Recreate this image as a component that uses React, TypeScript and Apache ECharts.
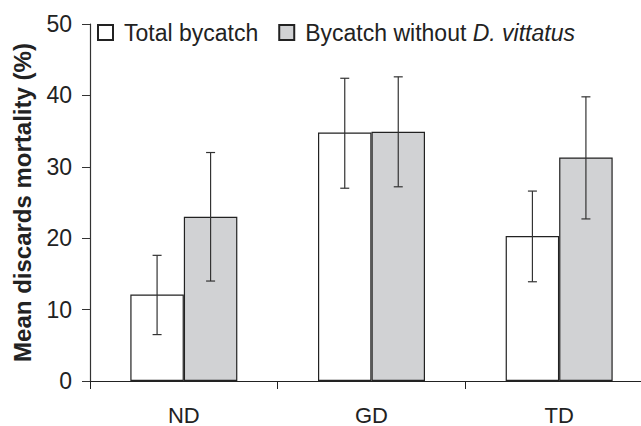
import React, { useEffect, useRef } from "react";
import * as echarts from "echarts";

const categories = ["ND", "GD", "TD"];
const totalMean = [12.1, 34.8, 20.3];
const totalLow = [6.5, 27.0, 13.9];
const totalHigh = [17.6, 42.4, 26.6];
const withoutMean = [23.0, 34.9, 31.3];
const withoutLow = [14.0, 27.2, 22.7];
const withoutHigh = [32.0, 42.6, 39.8];
const seriesNames = ["Total bycatch", "Bycatch without D. vittatus"];

const BAR_W = 53.5;

function errorSeries(low: number[], high: number[], dir: number) {
  return {
    type: "custom",
    z: 10,
    silent: true,
    data: categories.map((c, i) => [i, low[i], high[i]]),
    renderItem: (params: any, api: any) => {
      const top = api.coord([api.value(0), api.value(2)]);
      const bot = api.coord([api.value(0), api.value(1)]);
      const x = top[0] + (dir * BAR_W) / 2;
      const cap = 4.5;
      const style = { stroke: "#333", lineWidth: 1.2 };
      return {
        type: "group",
        children: [
          { type: "line", shape: { x1: x, y1: top[1], x2: x, y2: bot[1] }, style },
          { type: "line", shape: { x1: x - cap, y1: top[1], x2: x + cap, y2: top[1] }, style },
          { type: "line", shape: { x1: x - cap, y1: bot[1], x2: x + cap, y2: bot[1] }, style },
        ],
      };
    },
  };
}

export default function App() {
  const ref = useRef<HTMLDivElement>(null);
  useEffect(() => {
    const chart = echarts.init(ref.current!, undefined, { renderer: "svg" });
    const font = "Liberation Sans, Arial, sans-serif";
    chart.setOption({
      animation: false,
      textStyle: { fontFamily: font },
      grid: { left: 90, top: 24, bottom: 44, right: 0 },
      legend: {
        data: seriesNames,
        left: 97,
        top: 21,
        padding: 0,
        icon: "rect",
        itemWidth: 15,
        itemHeight: 15,
        itemGap: 20,
        textStyle: {
          fontSize: 23,
          color: "#222",
          fontFamily: font,
          rich: {
            s: { width: 6 },
            i: { fontSize: 23, fontStyle: "italic", color: "#222", fontFamily: font },
          },
        },
        formatter: (name: string) =>
          name === seriesNames[1] ? "{s|}Bycatch without {i|D. vittatus}" : "{s|}" + name,
      },
      xAxis: {
        type: "category",
        data: categories,
        axisLine: { lineStyle: { color: "#222", width: 1.2 } },
        axisTick: { show: true, length: 8, lineStyle: { color: "#222" } },
        axisLabel: { fontSize: 22, color: "#222", margin: 23, fontFamily: font },
        splitLine: { show: false },
      },
      yAxis: {
        type: "value",
        min: 0,
        max: 50,
        interval: 10,
        name: "Mean discards mortality (%)",
        nameLocation: "middle",
        nameGap: 56,
        nameTextStyle: { fontSize: 24, fontWeight: "bold", color: "#222", fontFamily: font },
        axisLine: { show: true, lineStyle: { color: "#333", width: 1.2 } },
        axisTick: { show: true, length: 8, lineStyle: { color: "#333" } },
        axisLabel: { fontSize: 23, color: "#222", margin: 18, fontFamily: font },
        splitLine: { show: false },
      },
      series: [
        {
          name: seriesNames[0],
          type: "bar",
          data: totalMean,
          barWidth: BAR_W,
          barGap: "0%",
          itemStyle: { color: "#ffffff", borderColor: "#222", borderWidth: 1.2 },
        },
        {
          name: seriesNames[1],
          type: "bar",
          data: withoutMean,
          barWidth: BAR_W,
          barGap: "0%",
          itemStyle: { color: "#d1d2d4", borderColor: "#222", borderWidth: 1.2 },
        },
        errorSeries(totalLow, totalHigh, -1),
        errorSeries(withoutLow, withoutHigh, 1),
      ],
    });
    return () => chart.dispose();
  }, []);
  return (
    <div
      style={{
        width: 641,
        height: 426,
        position: "absolute",
        left: 0,
        top: 0,
        overflow: "hidden",
      }}
    >
      <div ref={ref} style={{ width: 653, height: 426 }} />
    </div>
  );
}
